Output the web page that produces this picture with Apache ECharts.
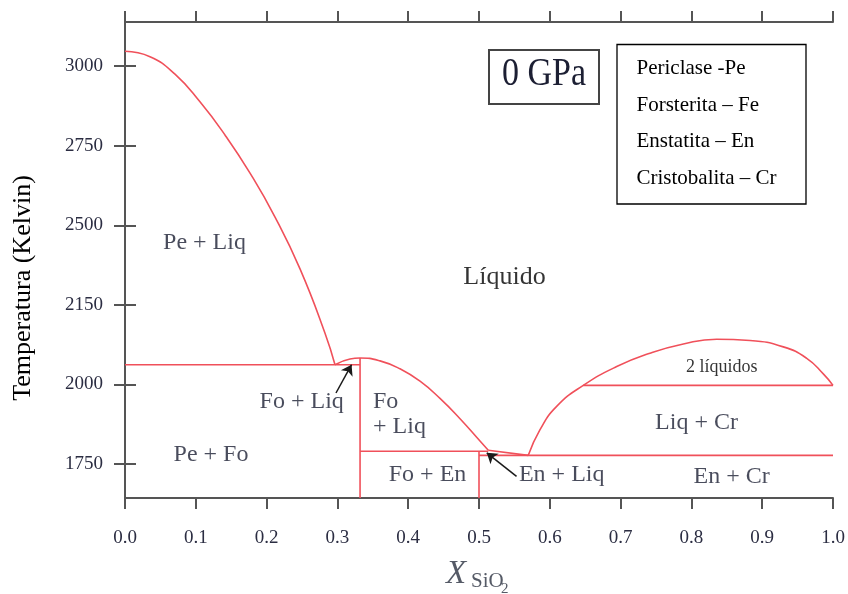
<!DOCTYPE html>
<html><head><meta charset="utf-8">
<script src="https://cdn.jsdelivr.net/npm/echarts@6/dist/echarts.min.js"></script>
<style>html,body{margin:0;padding:0;background:#fff}#c{width:848px;height:594px}</style>
</head><body><div id="c"></div>
<script>
// ---- data ----
const yTickValues = [1750, 2000, 2250, 2500, 2750, 3000];
const yTickLabels = ['1750', '2000', '2150', '2500', '2750', '3000'];

const peLiquidus = [[0,3047],[0.0353,3030],[0.0706,2975],[0.1059,2888],[0.1412,2784],[0.1766,2664],[0.2119,2526],[0.2472,2363],[0.2825,2161],[0.2966,2062]];
const foLiquidus = [[0.2966,2062],[0.3178,2080],[0.3319,2083],[0.3602,2074],[0.3884,2049],[0.4167,2010],[0.4449,1956],[0.4732,1892],[0.5014,1822],[0.5131,1793]];
const peritecticToEutectic = [[0.5131,1793],[0.5696,1777]];
const crLiquidus = [[0.5696,1777],[0.5862,1858],[0.6097,1931],[0.6473,1997],[0.6945,2056],[0.7415,2098],[0.7886,2127],[0.8357,2142],[0.8828,2138],[0.9298,2118],[0.9629,2082],[0.9863,2033],[1.0,1997]];
const peFoEutectic = [[0,2062],[0.332,2062]];
const foVertical = [[0.332,2083],[0.332,1643]];
const foEnLine = [[0.332,1790],[0.5131,1790]];
const enVertical = [[0.5,1790],[0.5,1643]];
const enCrLine = [[0.5,1777],[1,1777]];
const twoLiqLine = [[0.6473,1997],[1,1997]];

const regionNames = ['Pe + Liq', 'Líquido', 'Pe + Fo', 'Fo + Liq', 'Fo\n+ Liq', 'Fo + En', 'En + Liq', 'Liq + Cr', 'En + Cr', '2 líquidos'];
const regionX = [0.1123, 0.536, 0.1215, 0.2496, 0.3503, 0.4273, 0.6168, 0.8072, 0.8569, 0.8428];
const regionT = [2444, 2338, 1780, 1945, 1905, 1717, 1715, 1879, 1711, 2054];

const arrowFrom = [[0.298, 1973], [0.553, 1711]];
const arrowTo = [[0.320, 2062], [0.511, 1785]];

const legendLines = ['Periclase -Pe', 'Forsterita – Fe', 'Enstatita – En', 'Cristobalita – Cr'];
const pressureLabel = '0 GPa';

// ---- styles ----
const SERIF = '"Liberation Serif", "Times New Roman", serif';
const RED = '#f0505a';
const AXIS = '#555';
const INK = '#1c1f33';
const regionStyle = {
  'Líquido': {fontSize: 26, color: '#000'},
  '2 líquidos': {fontSize: 18, color: '#000'},
  'Fo\n+ Liq': {position: 'right', distance: 0, align: 'left', lineHeight: 25}
};

const chart = echarts.init(document.getElementById('c'), null, {renderer: 'canvas'});

function boundary(data, smooth) {
  return {type: 'line', data: data, showSymbol: false, symbol: 'none', smooth: smooth || false,
    silent: true, lineStyle: {color: RED, width: 1.6}, z: 3};
}

const axisLineStyle = {show: true, lineStyle: {color: AXIS, width: 2}};
const axisTickStyle = {show: true, inside: false, length: 11, lineStyle: {color: AXIS, width: 2}};
const labelFont = {fontFamily: SERIF, fontSize: 19, color: '#2b2d42'};

const scatterData = regionNames.map((n, i) => {
  const s = regionStyle[n] || {};
  return {
    value: [regionX[i], regionT[i]], name: n,
    label: Object.assign({show: true, position: 'inside', fontFamily: SERIF, fontSize: 24, color: INK}, s)
  };
});

const option = {
  animation: false,
  backgroundColor: '#fff',
  grid: {left: 125, right: 15, top: 22, bottom: 96, containLabel: false},
  xAxis: [
    {type: 'value', position: 'bottom', min: 0, max: 1, interval: 0.1,
      axisLine: axisLineStyle, axisTick: axisTickStyle, splitLine: {show: false},
      axisLabel: Object.assign({margin: 31, formatter: v => v.toFixed(1)}, labelFont)},
    {type: 'value', position: 'top', min: 0, max: 1, interval: 0.1,
      axisLine: axisLineStyle, axisTick: axisTickStyle, splitLine: {show: false},
      axisLabel: {show: false}}
  ],
  yAxis: [
    {type: 'value', position: 'left', min: 1643, max: 3139,
      axisLine: axisLineStyle,
      axisTick: Object.assign({customValues: yTickValues}, axisTickStyle),
      splitLine: {show: false},
      axisLabel: Object.assign({margin: 22, customValues: yTickValues,
        formatter: v => { const k = yTickValues.indexOf(v); return k >= 0 ? yTickLabels[k] : ''; }}, labelFont)},
    {type: 'value', position: 'right', min: 1643, max: 3139,
      axisLine: axisLineStyle,
      axisTick: Object.assign({customValues: yTickValues}, axisTickStyle),
      splitLine: {show: false}, axisLabel: {show: false}}
  ],
  series: [
    boundary(peLiquidus, 0.5),
    boundary(foLiquidus, 0.5),
    boundary(peritecticToEutectic),
    boundary(crLiquidus, 0.5),
    Object.assign(boundary(peFoEutectic), {
      markLine: {
        silent: true, symbol: ['none', 'arrow'], symbolSize: 10, animation: false,
        lineStyle: {color: '#1a1a1a', width: 1.5, type: 'solid'}, label: {show: false},
        emphasis: {disabled: true},
        data: arrowFrom.map((f, i) => [{coord: f}, {coord: arrowTo[i]}])
      }
    }),
    boundary(foVertical),
    boundary(foEnLine),
    boundary(enVertical),
    boundary(enCrLine),
    boundary(twoLiqLine),
    {type: 'scatter', data: scatterData, symbolSize: 0, silent: true, z: 5,
      label: {show: true, formatter: '{b}'}}
  ],
  graphic: [
    {type: 'rect', shape: {x: 489, y: 50, width: 110, height: 54},
      style: {fill: '#fff', stroke: '#444', lineWidth: 2}, z: 10},
    {type: 'text', x: 544, y: 74, z: 11, scaleY: 1.18,
      style: {text: pressureLabel, font: '34px ' + SERIF, fill: INK, textAlign: 'center', textVerticalAlign: 'middle'}},
    {type: 'rect', shape: {x: 617, y: 44.5, width: 189, height: 159.5},
      style: {fill: '#fff', stroke: '#000', lineWidth: 1.3}, z: 10},
    ...legendLines.map((t, i) => ({type: 'text', z: 11, x: 636.5, y: 68.5 + i * 36.7,
      style: {text: t, font: '21px ' + SERIF, fill: '#000', textAlign: 'left', textVerticalAlign: 'middle'}})),
    {type: 'text', x: 23, y: 288, rotation: Math.PI / 2, z: 11,
      style: {text: 'Temperatura (Kelvin)', font: '26px ' + SERIF, fill: '#000', textAlign: 'center', textVerticalAlign: 'middle'}},
    {type: 'text', x: 446, y: 574, z: 11,
      style: {text: 'X', font: 'italic 33px ' + SERIF, fill: '#555a66', textAlign: 'left', textVerticalAlign: 'middle'}},
    {type: 'text', x: 471, y: 581, z: 11,
      style: {text: 'SiO', font: '21px ' + SERIF, fill: '#555a66', textAlign: 'left', textVerticalAlign: 'middle'}},
    {type: 'text', x: 501, y: 589, z: 11,
      style: {text: '2', font: '15px ' + SERIF, fill: '#555a66', textAlign: 'left', textVerticalAlign: 'middle'}}
  ]
};
chart.setOption(option);
</script>
</body></html>
